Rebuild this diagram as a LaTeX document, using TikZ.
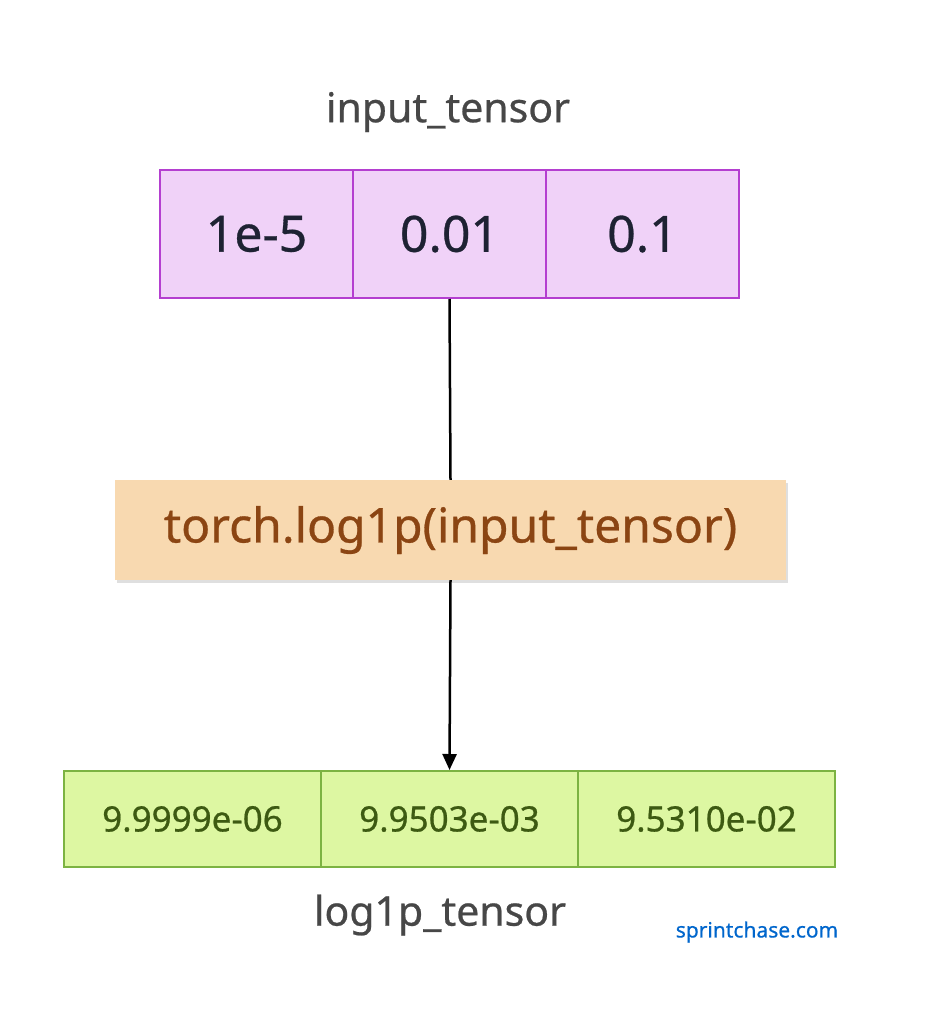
\documentclass[tikz,border=0pt]{standalone}
\usepackage{fontspec}
\setmainfont{Noto Sans}[FakeBold=0.6]
\usetikzlibrary{shadows,arrows.meta}
\definecolor{pfill}{HTML}{F0D2F8}
\definecolor{pdraw}{HTML}{B43FD0}
\definecolor{gfill}{HTML}{DDF7A2}
\definecolor{gdraw}{HTML}{7CB342}
\definecolor{ofill}{HTML}{F8D9B0}
\definecolor{otext}{HTML}{8B4513}
\definecolor{dtext}{HTML}{1E2233}
\definecolor{gtext}{HTML}{3D5A12}
\begin{document}
\begin{tikzpicture}[x=1pt,y=-1pt,
 pcell/.style={draw=pdraw,line width=2pt,fill=pfill,minimum width=193pt,minimum height=128pt,inner sep=0pt,font=\fontsize{50}{54}\bfseries,text=dtext},
 gcell/.style={draw=gdraw,line width=2pt,fill=gfill,minimum width=257pt,minimum height=96pt,inner sep=0pt,font=\fontsize{35}{40}\bfseries,text=gtext},
 lbl/.style={font=\fontsize{41}{45}\bfseries,text=black!72},
 conn/.style={line width=2.5pt,black}]
\useasboundingbox (0,0) rectangle (948,1024);
\node[lbl] (t1) at (448,112) {input\_tensor};
\node[pcell] (a1) at (256.5,234) {1e-5};
\node[pcell] (a2) at (449.5,234) {0.01};
\node[pcell] (a3) at (642.5,234) {0.1};
\node[fill=ofill,minimum width=671pt,minimum height=100pt,drop shadow={shadow xshift=2pt,shadow yshift=-3pt,opacity=0.25},font=\fontsize{48}{52}\bfseries,text=otext] (f) at (450.5,530) {torch.log1p(input\_tensor)};
\node[gcell] (b1) at (192.5,819) {9.9999e-06};
\node[gcell] (b2) at (449.5,819) {9.9503e-03};
\node[gcell] (b3) at (706.5,819) {9.5310e-02};
\node[lbl] (t2) at (440,915) {log1p\_tensor};
\node[font=\fontsize{21}{24}\selectfont,text=blue!50!cyan!80!black] (w) at (757,932) {sprintchase.com};
\draw[conn] (a2.south) -- (f.north);
\draw[conn,-{Triangle[length=16pt,width=14pt]}] (f.south) -- (b2.north);
\end{tikzpicture}
\end{document}
